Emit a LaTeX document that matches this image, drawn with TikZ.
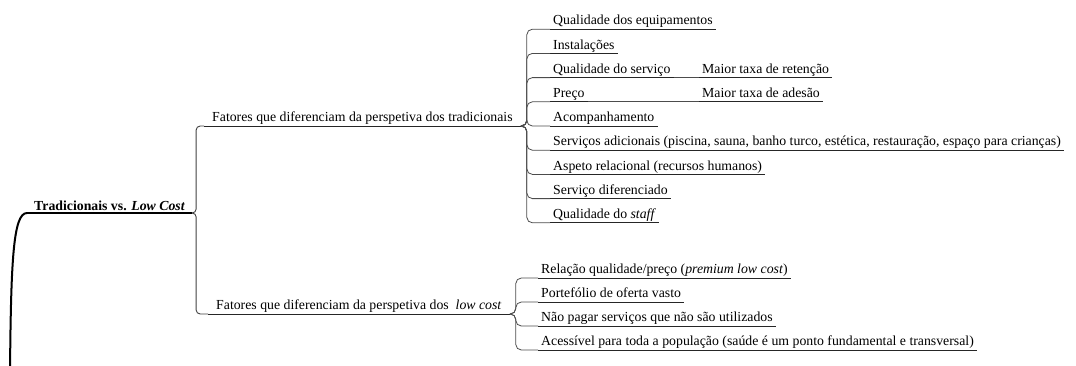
\documentclass[tikz,border=0pt]{standalone}
\usepackage{fontspec}
\setmainfont{Liberation Serif}
\begin{document}
\begin{tikzpicture}[x=1pt,y=-1pt,
  every node/.style={font=\fontsize{13.8pt}{16pt}\selectfont, text height=9.5pt, text depth=3pt, inner ysep=1.2pt, anchor=south west, text=black},
  leaf/.style={inner xsep=3pt},
  branch/.style={inner xsep=8pt},
  rootnode/.style={inner xsep=7pt, inner ysep=2pt, text depth=0pt, font=\fontsize{13.8pt}{16pt}\selectfont\bfseries},
  ul/.style={draw=black!85, line width=0.9pt},
  rootul/.style={draw=black, line width=1.4pt},
  conn/.style={draw=black!70, line width=0.8pt, rounded corners=5.5pt},
  rconn/.style={draw=black!75, line width=0.9pt, rounded corners=4pt},
  rootline/.style={draw=black, line width=2pt},
]
\useasboundingbox (0,0) rectangle (1076,365);

% root
\node[rootnode] (root) at (27,213) {Tradicionais vs. \textit{Low Cost}};

% branches
\node[branch] (b1) at (204,126) {Fatores que diferenciam da perspetiva dos tradicionais};
\node[branch] (b2) at (208,314) {Fatores que diferenciam da perspetiva dos\ \ \textit{low cost}};

% children of b1
\node[leaf] (c1) at (550,29.2) {Qualidade dos equipamentos};
\node[leaf] (c2) at (550,53.4) {Instalações};
\node[leaf] (c3) at (550,77.6) {Qualidade do serviço};
\node[leaf] (c4) at (550,101.8) {Preço};
\node[leaf] (c5) at (550,126) {Acompanhamento};
\node[leaf] (c6) at (550,150.2) {Serviços adicionais (piscina, sauna, banho turco, estética, restauração, espaço para crianças)};
\node[leaf] (c7) at (550,174.4) {Aspeto relacional (recursos humanos)};
\node[leaf] (c8) at (550,198.6) {Serviço diferenciado};
\node[leaf] (c9) at (550,222.8) {Qualidade do \textit{staff}};

% grandchildren
\node[leaf] (g1) at (699,77.6) {Maior taxa de retenção};
\node[leaf] (g2) at (699,101.8) {Maior taxa de adesão};

% children of b2
\node[leaf] (d1) at (538,278) {Relação qualidade/preço (\textit{premium low cost})};
\node[leaf] (d2) at (538,302) {Portefólio de oferta vasto};
\node[leaf] (d3) at (538,326) {Não pagar serviços que não são utilizados};
\node[leaf] (d4) at (538,350) {Acessível para toda a população (saúde é um ponto fundamental e transversal)};

% underlines
\draw[rootul] (root.south west) -- (root.south east);
\foreach \n in {b1,b2,c1,c2,c3,c4,c5,c6,c7,c8,c9,g1,g2,d1,d2,d3,d4}
  \draw[ul] (\n.south west) -- (\n.south east);

% left trunk
\draw[rootline] (10,372) .. controls (11,262) and (13,213) .. (root.south west);

% connectors
\foreach \b in {b1,b2}
  \draw[rconn] (root.south east) -- ++(4,0) |- (\b.south west);
\foreach \c in {c1,c2,c3,c4,c5,c6,c7,c8,c9}
  \draw[conn] (b1.south east) -- ++(6,0) |- (\c.south west);
\foreach \d in {d1,d2,d3,d4}
  \draw[conn] (b2.south east) -- ++(6,0) |- (\d.south west);
\draw[conn] (c3.south east) -- (g1.south west);
\draw[conn] (c4.south east) -- (g2.south west);
\end{tikzpicture}
\end{document}
